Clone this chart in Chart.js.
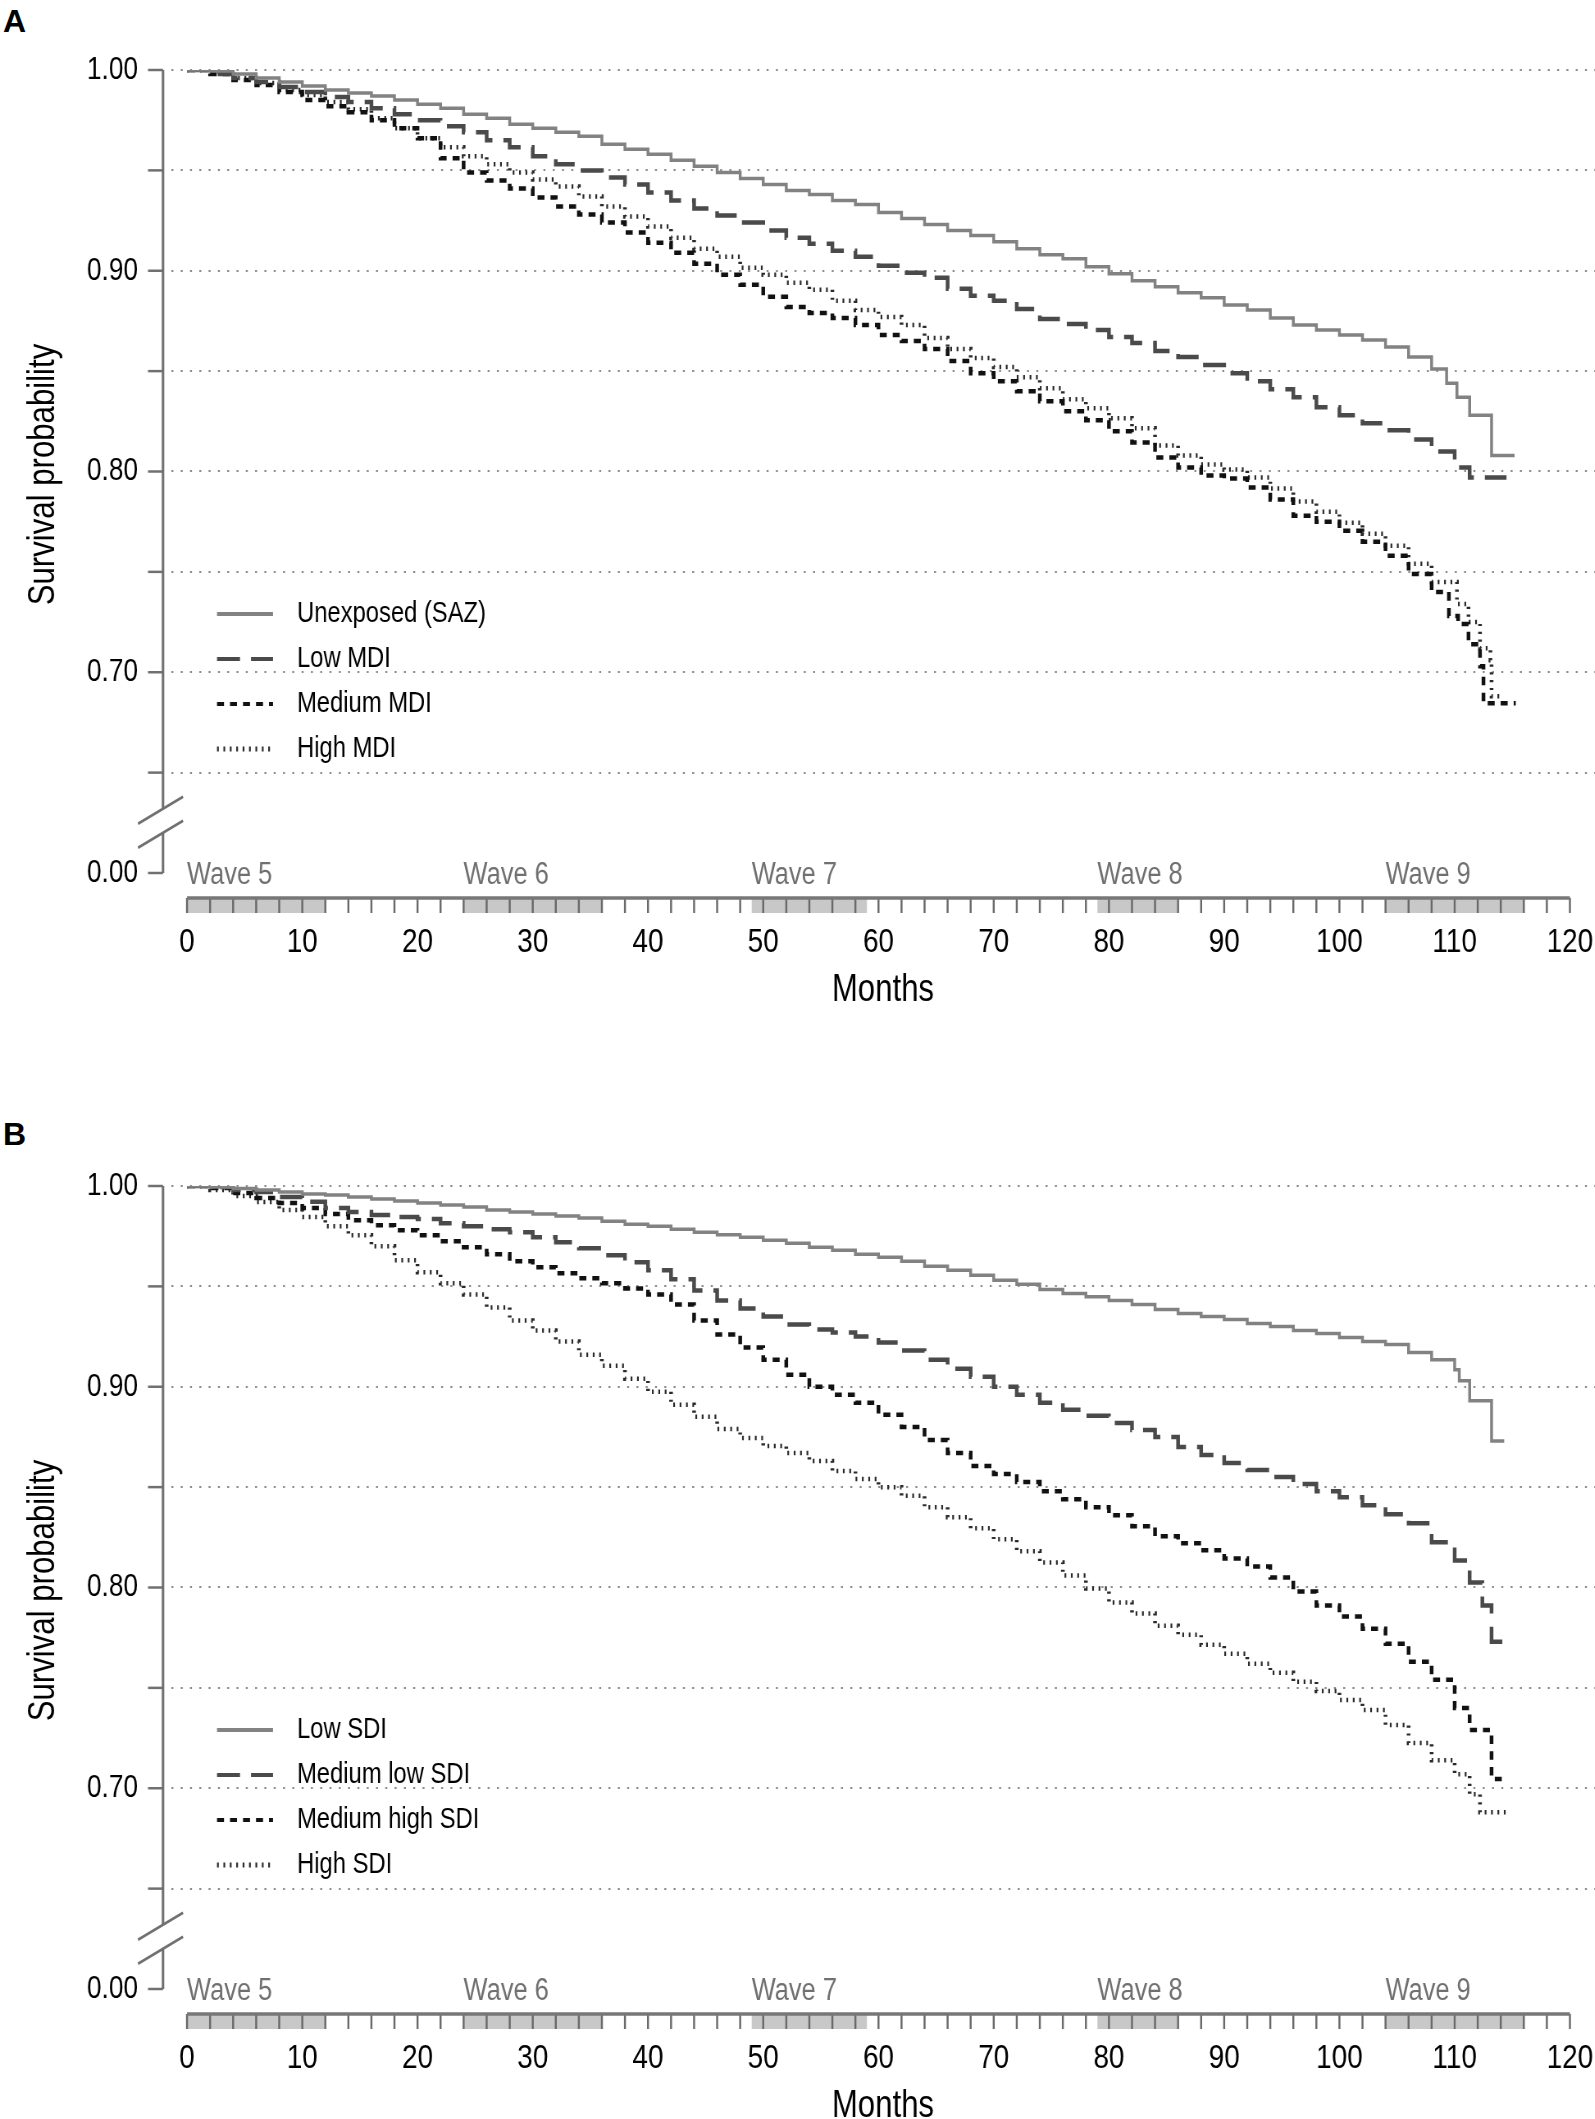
<!DOCTYPE html>
<html>
<head>
<meta charset="utf-8">
<title>Survival by deprivation</title>
<script src="https://cdn.jsdelivr.net/npm/chart.js@4.4.1/dist/chart.umd.min.js"></script>
<style>
  html, body { margin: 0; padding: 0; background: #fff; overflow: hidden; }
  body { width: 1595px; height: 2119px; position: relative; }
  /* canvas drawn wider, then squeezed: gives Arial-Narrow-like text */
  .panel { position: absolute; left: 0; width: 1945px; height: 1010px; transform: scaleX(0.82); transform-origin: 0 0; }
  .letter { position: absolute; left: 3px; font: bold 32px/1 "Liberation Sans", Arial, sans-serif; color: #000; }
</style>
</head>
<body>
<div class="letter" style="top:5px">A</div>
<div class="letter" style="top:1118px">B</div>
<div class="panel" style="top:0"><canvas id="chartA" width="1945" height="1010"></canvas></div>
<div class="panel" style="top:1116px"><canvas id="chartB" width="1945" height="1010"></canvas></div>

<script>
const FONT = "'Liberation Sans', Arial, sans-serif";
const SX = 0.82; // horizontal squeeze of the panels

/* ---------- DATA ---------- */
// months 0..108, every 2 months
const evenMonths = [0, 2, 4, 6, 8, 10, 12, 14, 16, 18, 20, 22, 24, 26, 28, 30, 32, 34, 36, 38,
  40, 42, 44, 46, 48, 50, 52, 54, 56, 58, 60, 62, 64, 66, 68, 70, 72, 74, 76, 78,
  80, 82, 84, 86, 88, 90, 92, 94, 96, 98, 100, 102, 104, 106, 108];

const xTickValues = [0, 10, 20, 30, 40, 50, 60, 70, 80, 90, 100, 110, 120];
const yTickValues = [0.60, 0.65, 0.70, 0.75, 0.80, 0.85, 0.90, 0.95, 1.00];
const yTickLabels = ["0.00", "", "0.70", "", "0.80", "", "0.90", "", "1.00"];

const waveLabels = ["Wave 5", "Wave 6", "Wave 7", "Wave 8", "Wave 9"];
const waveStart = [0, 24, 49, 79, 104];
const waveEnd = [12, 36, 59, 86, 116];

// Panel A: material deprivation
const mdiNames = ["Unexposed (SAZ)", "Low MDI", "Medium MDI", "High MDI"];

const unexposedBody = [1.000, 0.9995, 0.998, 0.996, 0.994, 0.992, 0.990, 0.9885, 0.987, 0.985,
  0.983, 0.981, 0.978, 0.976, 0.973, 0.971, 0.969, 0.967, 0.963, 0.9605,
  0.958, 0.955, 0.952, 0.949, 0.946, 0.943, 0.940, 0.938, 0.935, 0.933,
  0.929, 0.926, 0.923, 0.920, 0.9175, 0.9145, 0.911, 0.908, 0.906, 0.902,
  0.8985, 0.895, 0.892, 0.889, 0.8865, 0.883, 0.8805, 0.8765, 0.873, 0.8705,
  0.868, 0.8655, 0.862, 0.857, 0.851];
const unexposedTailT = [109.3, 110.2, 111.3, 113.2, 115.2];
const unexposedTailV = [0.844, 0.837, 0.828, 0.808, 0.808];

const lowMdiBody = [1.000, 0.998, 0.996, 0.994, 0.9915, 0.989, 0.9865, 0.984, 0.981, 0.978,
  0.975, 0.972, 0.969, 0.965, 0.9615, 0.957, 0.953, 0.950, 0.9465, 0.943,
  0.939, 0.935, 0.931, 0.9275, 0.924, 0.920, 0.9165, 0.9135, 0.910, 0.907,
  0.9025, 0.899, 0.8965, 0.891, 0.8875, 0.885, 0.881, 0.876, 0.8735, 0.8705,
  0.867, 0.864, 0.860, 0.857, 0.853, 0.849, 0.845, 0.841, 0.837, 0.832,
  0.828, 0.824, 0.8205, 0.816, 0.810];
const lowMdiTailT = [110, 111.3, 114.5];
const lowMdiTailV = [0.802, 0.797, 0.797];

const mediumMdiBody = [1.000, 0.998, 0.995, 0.9925, 0.989, 0.985, 0.982, 0.979, 0.975, 0.971,
  0.966, 0.956, 0.949, 0.945, 0.941, 0.9365, 0.932, 0.928, 0.924, 0.919,
  0.914, 0.909, 0.9035, 0.898, 0.893, 0.887, 0.882, 0.879, 0.8765, 0.873,
  0.868, 0.865, 0.861, 0.855, 0.849, 0.845, 0.840, 0.835, 0.830, 0.8255,
  0.820, 0.8145, 0.807, 0.802, 0.798, 0.7965, 0.792, 0.786, 0.778, 0.775,
  0.7705, 0.765, 0.758, 0.749, 0.740];
const mediumMdiTailT = [109.5, 110.3, 111.2, 112.2, 112.5, 115.3];
const mediumMdiTailV = [0.728, 0.724, 0.714, 0.703, 0.6845, 0.6845];

const highMdiBody = [1.000, 0.999, 0.996, 0.9935, 0.990, 0.9875, 0.984, 0.9805, 0.976, 0.971,
  0.966, 0.9615, 0.957, 0.953, 0.949, 0.9455, 0.942, 0.937, 0.932, 0.927,
  0.922, 0.9165, 0.911, 0.907, 0.9015, 0.898, 0.894, 0.8905, 0.885, 0.8805,
  0.877, 0.873, 0.8665, 0.861, 0.8565, 0.852, 0.847, 0.8415, 0.836, 0.8315,
  0.8265, 0.8215, 0.813, 0.808, 0.8035, 0.801, 0.797, 0.7915, 0.785, 0.780,
  0.7745, 0.769, 0.763, 0.754, 0.745];
const highMdiTailT = [110.2, 111.2, 112.2, 113.1, 113.2, 114.2];
const highMdiTailV = [0.734, 0.725, 0.712, 0.706, 0.688, 0.688];

// Panel B: social deprivation
const sdiNames = ["Low SDI", "Medium low SDI", "Medium high SDI", "High SDI"];

const lowSdiBody = [1.000, 0.9995, 0.9988, 0.998, 0.997, 0.996, 0.9955, 0.9945, 0.9935, 0.9925,
  0.9915, 0.9905, 0.9895, 0.988, 0.987, 0.986, 0.985, 0.984, 0.9825, 0.981,
  0.980, 0.9785, 0.977, 0.9757, 0.9745, 0.973, 0.9715, 0.9695, 0.968, 0.966,
  0.9645, 0.9625, 0.960, 0.958, 0.9555, 0.953, 0.951, 0.9485, 0.9465, 0.9448,
  0.943, 0.941, 0.9385, 0.9365, 0.935, 0.9335, 0.9315, 0.930, 0.928, 0.9265,
  0.9245, 0.9225, 0.921, 0.917, 0.9135];
const lowSdiTailT = [110, 110.4, 111.3, 113.2, 114.3];
const lowSdiTailV = [0.9085, 0.903, 0.893, 0.873, 0.873];

const mediumLowSdiBody = [1.000, 0.9995, 0.998, 0.997, 0.9945, 0.9922, 0.989, 0.987, 0.9855, 0.9845,
  0.9835, 0.9815, 0.980, 0.9785, 0.977, 0.9745, 0.972, 0.969, 0.9655, 0.962,
  0.958, 0.9535, 0.948, 0.943, 0.939, 0.935, 0.931, 0.9285, 0.927, 0.925,
  0.922, 0.918, 0.9135, 0.909, 0.905, 0.900, 0.896, 0.892, 0.8885, 0.8855,
  0.882, 0.8785, 0.875, 0.870, 0.866, 0.862, 0.8585, 0.855, 0.8515, 0.848,
  0.845, 0.841, 0.8365, 0.832, 0.8225];
const mediumLowSdiTailT = [110, 111.3, 112.4, 113.2, 114.2];
const mediumLowSdiTailV = [0.8135, 0.8025, 0.791, 0.773, 0.773];

const mediumHighSdiBody = [1.000, 0.999, 0.9965, 0.994, 0.9915, 0.989, 0.986, 0.983, 0.9805, 0.978,
  0.9755, 0.9725, 0.9695, 0.966, 0.9625, 0.9595, 0.9565, 0.954, 0.9515, 0.949,
  0.946, 0.941, 0.933, 0.926, 0.9195, 0.9135, 0.906, 0.900, 0.896, 0.892,
  0.886, 0.880, 0.8735, 0.867, 0.8605, 0.8565, 0.8525, 0.848, 0.844, 0.840,
  0.836, 0.8305, 0.8255, 0.822, 0.8185, 0.8145, 0.8105, 0.805, 0.798, 0.791,
  0.7855, 0.7795, 0.772, 0.763, 0.754];
const mediumHighSdiTailT = [110, 111.3, 113.2, 114.6];
const mediumHighSdiTailV = [0.740, 0.729, 0.7046, 0.7046];

const highSdiBody = [1.000, 0.998, 0.995, 0.992, 0.988, 0.9845, 0.980, 0.9755, 0.970, 0.963,
  0.957, 0.9515, 0.946, 0.9395, 0.933, 0.928, 0.9225, 0.916, 0.9105, 0.904,
  0.8975, 0.891, 0.885, 0.879, 0.8745, 0.8705, 0.867, 0.863, 0.858, 0.854,
  0.850, 0.8457, 0.840, 0.835, 0.8295, 0.824, 0.818, 0.8125, 0.806, 0.7995,
  0.7925, 0.787, 0.781, 0.7765, 0.7715, 0.767, 0.762, 0.7575, 0.753, 0.7485,
  0.744, 0.739, 0.7315, 0.7225, 0.714];
const highSdiTailT = [110, 111.3, 112.2, 114.8];
const highSdiTailV = [0.707, 0.697, 0.688, 0.688];

/* ---------- STYLE ---------- */
const lineColors = ["#828282", "#4a4a4a", "#111111", "#2a2a2a"];
const lineWidths = [3.5, 4.5, 4.5, 4.5];
// dash lengths as seen on screen; divided by SX when used on the canvas
const lineDashes = [[], [23, 11], [7, 6], [1.8, 4.6]];
const dash = d => d.map(v => v / SX);

// x range so that 0 and 120 land where the reference has them
const xMin = -1.39;
const xMax = 122.17;

function kmPoints(body, tailT, tailV) {
  const vals = body.concat(tailV);
  return evenMonths.concat(tailT).map((m, i) => ({ x: m, y: vals[i] }));
}

function line(ctx, x1, y1, x2, y2) {
  ctx.beginPath();
  ctx.moveTo(x1, y1);
  ctx.lineTo(x2, y2);
  ctx.stroke();
}

/* ---------- DECORATION PLUGIN (axis break, wave band, legend) ---------- */
const panelDecor = {
  id: "panelDecor",
  afterDraw(chart, args, opts) {
    const ctx = chart.ctx;
    const x = chart.scales.x, y = chart.scales.y;
    const area = chart.chartArea;
    ctx.save();

    // y axis with break
    const ax = area.left - 8 / SX;
    const yTop = y.getPixelForValue(1.0);
    const y65 = y.getPixelForValue(0.65);
    const y0 = y.getPixelForValue(0.60);
    const mid = (y65 + y0) / 2 - 2;
    ctx.strokeStyle = "#707070";
    ctx.setLineDash([]);
    ctx.lineWidth = 2.5 / SX;
    line(ctx, ax, yTop, ax, mid - 12);
    line(ctx, ax, mid + 12, ax, y0);
    ctx.lineWidth = 2.5;
    yTickValues.forEach(v => {
      const py = y.getPixelForValue(v);
      line(ctx, ax - 15 / SX, py, ax, py);
    });
    ctx.lineWidth = 2.8;
    [-12, 12].forEach(off => line(ctx, ax - 25 / SX, mid + off + 15, ax + 20 / SX, mid + off - 12));

    // y axis title, kept narrow along its run
    ctx.save();
    ctx.translate(44 / SX, (yTop + y0) / 2 + 3);
    ctx.scale(1 / SX, 1);
    ctx.rotate(-Math.PI / 2);
    ctx.scale(SX, 1);
    ctx.fillStyle = "#000";
    ctx.font = "38px " + FONT;
    ctx.textAlign = "center";
    ctx.textBaseline = "middle";
    ctx.fillText("Survival probability", 0, 0);
    ctx.restore();

    // wave band under the plot
    const bandTop = y0 + 25, bandBot = y0 + 40;
    ctx.fillStyle = "#c8c8c8";
    waveStart.forEach((s, i) => {
      const px1 = x.getPixelForValue(s), px2 = x.getPixelForValue(waveEnd[i]);
      ctx.fillRect(px1, bandTop, px2 - px1, bandBot - bandTop);
    });
    ctx.strokeStyle = "#6a6a6a";
    ctx.lineWidth = 2 / SX;
    for (let m = 0; m <= 120; m += 2) {
      const px = x.getPixelForValue(m);
      line(ctx, px, bandTop, px, bandBot);
    }
    ctx.strokeStyle = "#777";
    ctx.lineWidth = 3.5;
    line(ctx, x.getPixelForValue(0), bandTop, x.getPixelForValue(120), bandTop);

    ctx.fillStyle = "#707070";
    ctx.font = "31px " + FONT;
    ctx.textAlign = "left";
    ctx.textBaseline = "middle";
    waveLabels.forEach((lab, i) => ctx.fillText(lab, x.getPixelForValue(waveStart[i]), y0 + 2));

    // legend
    opts.names.forEach((name, i) => {
      const ry = area.top + 544 + 45 * i;
      ctx.strokeStyle = lineColors[i];
      ctx.lineWidth = i === 3 ? 5 : 4;
      ctx.setLineDash(dash(lineDashes[i]));
      line(ctx, area.left + 46 / SX, ry, area.left + (i === 3 ? 99 : 102) / SX, ry);
      ctx.setLineDash([]);
      ctx.fillStyle = "#000";
      ctx.font = "29px " + FONT;
      ctx.fillText(name, area.left + 126 / SX, ry);
    });
    ctx.restore();
  }
};

function makePanel(canvasId, names, series) {
  const ctx = document.getElementById(canvasId).getContext("2d");
  return new Chart(ctx, {
    type: "line",
    data: {
      datasets: series.map((pts, i) => ({
        label: names[i],
        data: pts,
        stepped: true,
        borderColor: lineColors[i],
        borderWidth: lineWidths[i],
        borderDash: dash(lineDashes[i]),
        borderCapStyle: "butt",
        pointRadius: 0,
        fill: false
      }))
    },
    options: {
      responsive: false,
      animation: false,
      events: [],
      layout: { padding: { top: 70, left: 0, right: 0, bottom: 0 } },
      plugins: {
        legend: { display: false },
        tooltip: { enabled: false },
        panelDecor: { names: names }
      },
      scales: {
        x: {
          type: "linear",
          min: xMin,
          max: xMax,
          afterFit(s) { s.height = 137; s.paddingLeft = 0; s.paddingRight = 0; },
          afterBuildTicks(s) { s.ticks = xTickValues.map(v => ({ value: v })); },
          grid: { display: false, drawTicks: false },
          border: { display: false },
          ticks: {
            padding: 49, color: "#000", font: { size: 34, family: FONT },
            maxRotation: 0, autoSkip: false, callback: v => String(v)
          },
          title: {
            display: true, text: "Months", color: "#000",
            font: { size: 38, family: FONT, lineHeight: 1 },
            padding: { top: 0, bottom: 0 }
          }
        },
        y: {
          type: "linear",
          min: 0.60,
          max: 1.00,
          afterFit(s) { s.width = 171 / SX; s.paddingTop = 0; s.paddingBottom = 0; },
          afterBuildTicks(s) { s.ticks = yTickValues.map(v => ({ value: v })); },
          grid: {
            drawTicks: false,
            lineWidth: 2,
            color: c => (c.tick && c.tick.value < 0.62) ? "rgba(0,0,0,0)" : "#8c8c8c"
          },
          border: { display: false, dash: dash([2, 7.3]) },
          ticks: {
            padding: 33 / SX, color: "#000", font: { size: 32, family: FONT },
            autoSkip: false, callback: (v, i) => yTickLabels[i]
          },
          title: { display: false }
        }
      }
    },
    plugins: [panelDecor]
  });
}

makePanel("chartA", mdiNames, [
  kmPoints(unexposedBody, unexposedTailT, unexposedTailV),
  kmPoints(lowMdiBody, lowMdiTailT, lowMdiTailV),
  kmPoints(mediumMdiBody, mediumMdiTailT, mediumMdiTailV),
  kmPoints(highMdiBody, highMdiTailT, highMdiTailV)
]);

makePanel("chartB", sdiNames, [
  kmPoints(lowSdiBody, lowSdiTailT, lowSdiTailV),
  kmPoints(mediumLowSdiBody, mediumLowSdiTailT, mediumLowSdiTailV),
  kmPoints(mediumHighSdiBody, mediumHighSdiTailT, mediumHighSdiTailV),
  kmPoints(highSdiBody, highSdiTailT, highSdiTailV)
]);
</script>
</body>
</html>
